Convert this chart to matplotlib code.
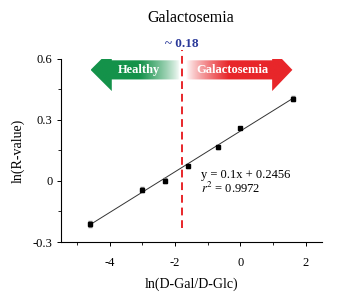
import numpy as np
import matplotlib
matplotlib.use("Agg")
import matplotlib.pyplot as plt
from matplotlib.patches import Polygon
from matplotlib.colors import to_rgb
from matplotlib.ticker import MultipleLocator, FormatStrFormatter

plt.rcParams["font.family"] = ["Liberation Serif", "DejaVu Serif"]
plt.rcParams["mathtext.fontset"] = "stix"
plt.rcParams["axes.unicode_minus"] = False

# data
ln_ratio = [-4.61, -3.00, -2.30, -1.61, -0.69, 0.00, 1.61]
ln_r = [-0.213, -0.044, 0.001, 0.072, 0.166, 0.259, 0.405]
err = [0.015, 0.012, 0.012, 0.008, 0.010, 0.006, 0.012]
slope, intercept = 0.1, 0.2456
cutoff = -1.8

fig = plt.figure(figsize=(3.38, 2.93), dpi=100)
ax = fig.add_axes([0.180, 0.174, 0.773, 0.625])

ax.errorbar(ln_ratio, ln_r, yerr=err, fmt="s", color="black", ms=3.5,
            ecolor="0.5", elinewidth=0.8, capsize=1.2, zorder=3)
xf = np.array([ln_ratio[0], ln_ratio[-1]])
ax.plot(xf, slope * xf + intercept, color="0.2", lw=0.7, zorder=2)

ax.plot([cutoff, cutoff], [-0.23, 0.645], color="#e8262a", lw=1.4,
        ls=(0, (4, 2.5)), clip_on=False, zorder=4)


def gradient_arrow(pts, x0, x1, color, fade_right, ramp=0.4):
    poly = Polygon(pts, closed=True, transform=ax.transData,
                   facecolor="none", edgecolor="none")
    ax.add_patch(poly)
    poly.set_clip_on(False)
    rgb = to_rgb(color)
    n = 256
    t = np.linspace(0, 1, n)
    d = (1 - t) if fade_right else t
    a = np.clip(d / ramp, 0, 1) ** 0.8
    img = np.zeros((1, n, 4))
    img[0, :, :3] = rgb
    img[0, :, 3] = a
    ys = [p[1] for p in pts]
    im = ax.imshow(img, extent=[x0, x1, min(ys), max(ys)], aspect="auto",
                   zorder=3, interpolation="bilinear")
    im.set_clip_path(poly)
    im.set_clip_on(True)


yc, bh, hh = 0.546, 0.047, 0.104
lt, lb, le = -4.59, -3.94, -1.87
gradient_arrow([(lt, yc), (lb, yc + hh), (lb, yc + bh), (le, yc + bh),
                (le, yc - bh), (lb, yc - bh), (lb, yc - hh)],
               lt, le, "#14924a", True, ramp=0.45)
rs, rb, rt = -1.68, 0.97, 1.59
gradient_arrow([(rs, yc + bh), (rb, yc + bh), (rb, yc + hh), (rt, yc),
                (rb, yc - hh), (rb, yc - bh), (rs, yc - bh)],
               rs, rt, "#e8262a", False, ramp=0.4)

ax.text(-3.1, yc, "Healthy", color="white", fontsize=9, fontweight="bold",
        ha="center", va="center", zorder=5)
ax.text(-0.25, yc, "Galactosemia", color="white", fontsize=9,
        fontweight="bold", ha="center", va="center", zorder=5)
ax.text(cutoff, 0.675, "~ 0.18", color="#2b3a9a", fontsize=9.5,
        fontweight="bold", ha="center", va="center")

ax.text(-1.2, 0.03, "y = 0.1x + 0.2456", fontsize=9, va="center")
ax.text(-1.2, -0.035, "$r^2$ = 0.9972", fontsize=9, va="center")

ax.set_xlim(-5.5, 2.5)
ax.set_ylim(-0.3, 0.6)
ax.xaxis.set_major_locator(MultipleLocator(2))
ax.xaxis.set_minor_locator(MultipleLocator(1))
ax.yaxis.set_major_locator(MultipleLocator(0.3))
ax.yaxis.set_minor_locator(MultipleLocator(0.15))
ax.yaxis.set_major_formatter(FormatStrFormatter("%g"))
for s in ["top", "right"]:
    ax.spines[s].set_visible(False)
for s in ["left", "bottom"]:
    ax.spines[s].set_linewidth(0.8)
ax.tick_params(which="major", direction="out", length=3, width=0.7,
               labelsize=9, pad=3)
ax.tick_params(axis="x", which="major", pad=8)
ax.tick_params(which="minor", direction="out", length=2, width=0.6)
ax.set_xlabel("ln(D-Gal/D-Glc)", fontsize=10, labelpad=6)
ax.set_ylabel("ln(R-value)", fontsize=10, labelpad=6)
fig.text(0.565, 0.94, "Galactosemia", fontsize=11.5,
         ha="center", va="center")

fig.savefig("out.png", dpi=100)
